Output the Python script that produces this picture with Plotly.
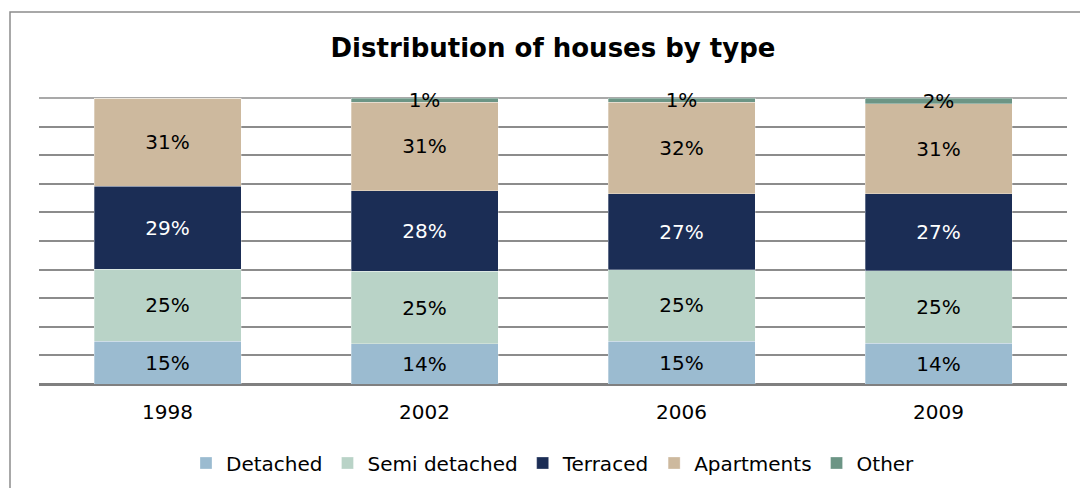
import plotly.graph_objects as go

years = ["1998", "2002", "2006", "2009"]
detached = [15.0, 14.0, 15.0, 14.2]
semi_detached = [25.2, 25.4, 24.9, 25.4]
terraced = [29.0, 28.1, 26.6, 27.0]
apartments = [30.8, 31.1, 32.1, 31.4]
other = [0.0, 1.4, 1.4, 2.0]

series = [
    ("Detached", detached, "#9BBBD0", "black"),
    ("Semi detached", semi_detached, "#B9D3C7", "black"),
    ("Terraced", terraced, "#1B2D55", "white"),
    ("Apartments", apartments, "#CDB99E", "black"),
    ("Other", other, "#6C9585", "black"),
]

FONT = "DejaVu Sans"
W, H = 1072, 480          # page body has an 8px margin
L, T = 31, 90
PW, PH = 1028, 286
GRID = "#8c8c8c"

fig = go.Figure()
for name, vals, color, tcolor in series:
    fig.add_trace(go.Bar(
        x=years, y=vals, name=name,
        marker=dict(color=color, line=dict(color="rgba(255,255,255,0.6)", width=0.5)),
        text=[f"{v:.0f}%" if v > 0 else "" for v in vals],
        textposition="inside", insidetextanchor="middle",
        textfont=dict(family=FONT, size=20, color=tcolor),
        constraintext="none", cliponaxis=False,
        hoverinfo="skip",
    ))

fig.update_layout(
    barmode="stack",
    bargap=0.428,
    width=W, height=H,
    margin=dict(l=L, r=W - L - PW, t=T, b=H - T - PH, autoexpand=False),
    paper_bgcolor="white", plot_bgcolor="white",
    uniformtext=dict(minsize=20, mode="show"),
    title=dict(text="<b>Distribution of houses by type</b>", x=0.5, xref="paper",
               xanchor="center", y=1 - 40 / H, yref="container", yanchor="middle",
               font=dict(family=FONT, size=26, color="black")),
    showlegend=True,
    legend=dict(orientation="h", x=0.5, xanchor="center", y=-(463 - 384) / PH, yanchor="middle",
                font=dict(family=FONT, size=20, color="black"),
                traceorder="normal", itemwidth=30),
    font=dict(family=FONT, color="black"),
    xaxis=dict(tickfont=dict(family=FONT, size=20, color="black"), showgrid=False,
               ticks="", showline=False, ticklabelstandoff=14),
    yaxis=dict(range=[0, 100], dtick=10, showticklabels=False, showgrid=True,
               gridcolor=GRID, gridwidth=1.5, zeroline=True,
               zerolinecolor="#808080", zerolinewidth=2.5, ticks=""),
    shapes=[
        dict(type="rect", xref="paper", yref="paper",
             x0=(2 - L) / PW, x1=1.2, y0=-1.0, y1=1 + (T - 4) / PH,
             line=dict(color=GRID, width=1.5), layer="below"),
        dict(type="line", xref="paper", yref="paper", x0=0, x1=1, y0=1, y1=1,
             line=dict(color=GRID, width=1.5), layer="below"),
    ],
)

fig.write_html("out.html")
